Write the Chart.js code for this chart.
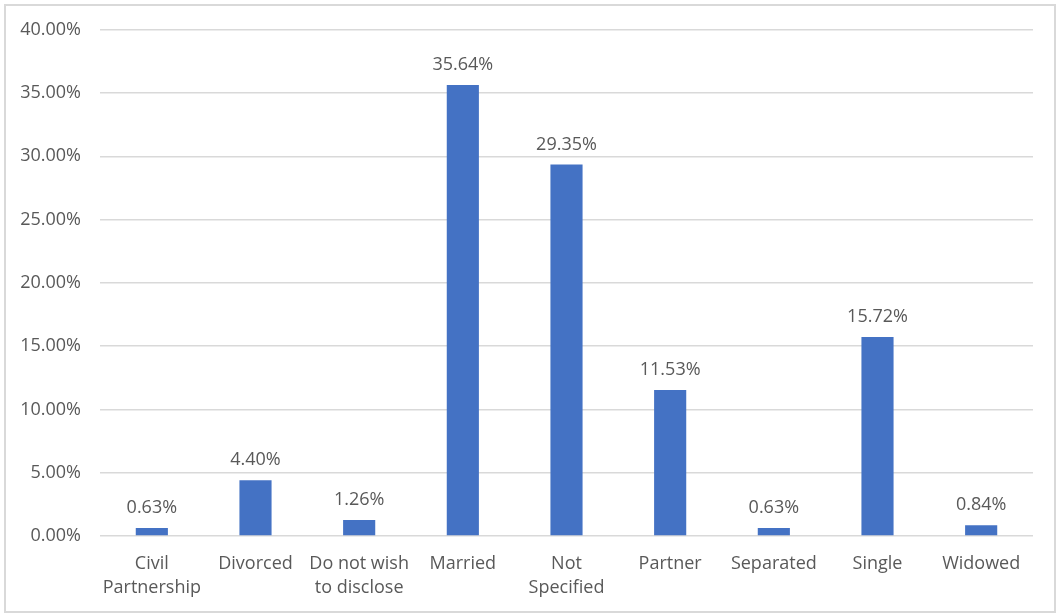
<!DOCTYPE html>
<html>
<head>
<meta charset="utf-8">
<script src="https://cdn.jsdelivr.net/npm/chart.js@4.4.1/dist/chart.umd.min.js"></script>
<style>
  html, body { margin: 0; padding: 0; background: #fff; }
  #wrap { position: relative; width: 1059px; height: 613px; }
  #frame {
    position: absolute; left: 4px; top: 4px; width: 1048px; height: 605px;
    border: 2px solid #d9d9d9; pointer-events: none;
  }
</style>
</head>
<body>
<div id="wrap">
  <canvas id="barChart" width="1059" height="613"></canvas>
  <div id="frame"></div>
</div>
<script>
    const categories = [
        ['Civil', 'Partnership'], 'Divorced', ['Do not wish', 'to disclose'], 'Married',
        ['Not', 'Specified'], 'Partner', 'Separated', 'Single', 'Widowed'
    ];
    const shares = [0.63, 4.40, 1.26, 35.64, 29.35, 11.53, 0.63, 15.72, 0.84];
    const yTicks = [0, 5, 10, 15, 20, 25, 30, 35, 40];

    const textColor = '#595959';
    const fontFamily = '"Open Sans", "Noto Sans", sans-serif';

    // writes the percentage above every bar
    const valueLabels = {
        id: 'valueLabels',
        afterDatasetsDraw(chart) {
            const ctx = chart.ctx;
            const meta = chart.getDatasetMeta(0);
            ctx.save();
            ctx.font = '18px ' + fontFamily;
            ctx.fillStyle = textColor;
            ctx.textAlign = 'center';
            ctx.textBaseline = 'alphabetic';
            meta.data.forEach(function (bar, i) {
                ctx.fillText(shares[i].toFixed(2) + '%', bar.x, bar.y - 15);
            });
            ctx.restore();
        }
    };

    const barCtx = document.getElementById('barChart').getContext('2d');

    new Chart(barCtx, {
        type: 'bar',
        data: {
            labels: categories,
            datasets: [{
                label: 'Share',
                data: shares,
                backgroundColor: '#4472C4',
                barPercentage: 0.62,
                categoryPercentage: 0.5
            }]
        },
        options: {
            responsive: false,
            animation: false,
            layout: { padding: { top: 28, right: 26, bottom: 0, left: 0 } },
            plugins: {
                legend: { display: false },
                tooltip: { enabled: false }
            },
            scales: {
                x: {
                    grid: { display: false, drawTicks: false },
                    border: { display: false },
                    ticks: {
                        color: textColor,
                        padding: 16,
                        maxRotation: 0,
                        autoSkip: false,
                        font: { family: fontFamily, size: 18, lineHeight: 1.33 }
                    },
                    afterFit: function (scale) { scale.height = 77; }
                },
                y: {
                    min: 0,
                    max: 40,
                    afterBuildTicks: function (scale) {
                        scale.ticks = yTicks.map(v => ({ value: v }));
                    },
                    grid: { color: '#d9d9d9', lineWidth: 1.5, drawTicks: false },
                    border: { display: false },
                    ticks: {
                        color: textColor,
                        padding: 19,
                        font: { family: fontFamily, size: 18 },
                        callback: function (value) { return value.toFixed(2) + '%'; }
                    },
                    afterFit: function (scale) { scale.width = 100; }
                }
            }
        },
        plugins: [valueLabels]
    });
</script>
</body>
</html>
